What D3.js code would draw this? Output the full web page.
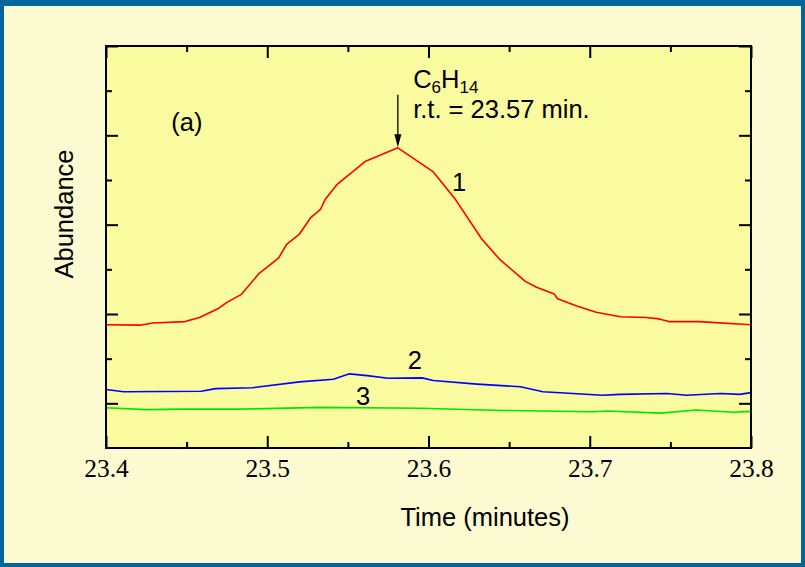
<!DOCTYPE html>
<html>
<head>
<meta charset="utf-8">
<script src="https://cdn.jsdelivr.net/npm/d3@7"></script>
<style>
  html, body { margin: 0; padding: 0; background: #00669a; }
  svg { display: block; }
</style>
</head>
<body>
<svg id="chart" width="805" height="567"></svg>
<script>
// trace 1 (red)
var time1 = [23.400, 23.421, 23.429, 23.449, 23.458, 23.470, 23.475, 23.484, 23.495, 23.507,
             23.512, 23.520, 23.527, 23.533, 23.536, 23.543, 23.561, 23.581, 23.603, 23.617,
             23.633, 23.644, 23.660, 23.667, 23.678, 23.680, 23.692, 23.704, 23.719, 23.735,
             23.743, 23.749, 23.768, 23.800];
var abund1 = [2.76, 2.75, 2.80, 2.83, 2.92, 3.13, 3.26, 3.44, 3.91, 4.25,
              4.56, 4.79, 5.16, 5.34, 5.57, 5.89, 6.42, 6.72, 6.18, 5.55,
              4.68, 4.23, 3.73, 3.60, 3.45, 3.34, 3.18, 3.04, 2.94, 2.92,
              2.89, 2.83, 2.83, 2.76];
// trace 2 (blue)
var time2 = [23.400, 23.411, 23.459, 23.468, 23.491, 23.520, 23.541, 23.551, 23.562, 23.575,
             23.596, 23.603, 23.630, 23.657, 23.671, 23.708, 23.719, 23.748, 23.760, 23.781,
             23.793, 23.800];
var abund2 = [1.31, 1.26, 1.27, 1.33, 1.35, 1.48, 1.54, 1.66, 1.62, 1.56,
              1.57, 1.51, 1.43, 1.37, 1.26, 1.18, 1.20, 1.22, 1.18, 1.22,
              1.20, 1.24];
// trace 3 (green)
var time3 = [23.400, 23.425, 23.448, 23.483, 23.533, 23.595, 23.646, 23.702, 23.711, 23.744,
             23.766, 23.789, 23.800];
var abund3 = [0.90, 0.86, 0.87, 0.87, 0.91, 0.89, 0.84, 0.81, 0.83, 0.78,
              0.85, 0.80, 0.82];

var xMajor = [23.4, 23.5, 23.6, 23.7, 23.8];
var xMinor = [23.45, 23.55, 23.65, 23.75];
var yMajor = [1, 3, 5, 7, 9];
var yMinor = [2, 4, 6, 8];

var peakTime = 23.581, peakAbund = 6.72;

var sans = "'Liberation Sans', Arial, Helvetica, sans-serif";
var serif = "'Liberation Serif', 'Times New Roman', Times, serif";
var fs = 25.5;

var svg = d3.select("#chart");
var W = +svg.attr("width"), H = +svg.attr("height");

// blue frame + cream page
svg.append("rect").attr("width", W).attr("height", H).attr("fill", "#00669a");
svg.append("rect").attr("x", 4).attr("y", 6).attr("width", W - 8).attr("height", H - 10)
   .attr("fill", "#fcfad1");

var margin = {left: 106, top: 46, right: 805 - 751, bottom: 567 - 448},
    width = W - margin.left - margin.right,
    height = H - margin.top - margin.bottom;

var g = svg.append("g").attr("transform", "translate(" + margin.left + "," + margin.top + ")");

var x = d3.scaleLinear().domain([23.4, 23.8]).range([0, width]);
var y = d3.scaleLinear().domain([0, 9]).range([height, 0]);

g.append("rect").attr("width", width).attr("height", height).attr("fill", "#fafa9f");

// inward ticks on all four sides
function tickAxis(axis, vals, size, fmt){
  var a = axis.tickValues(vals).tickSize(-size).tickPadding(12);
  if (!fmt) a.tickFormat("");
  else a.tickFormat(d3.format(".1f"));
  return a;
}
var axes = [
  {ax: d3.axisBottom(x), vals: xMajor, size: 12, lab: true, tr: "translate(0," + height + ")"},
  {ax: d3.axisBottom(x), vals: xMinor, size: 6, tr: "translate(0," + height + ")"},
  {ax: d3.axisTop(x), vals: xMajor, size: 12, tr: null},
  {ax: d3.axisTop(x), vals: xMinor, size: 6, tr: null},
  {ax: d3.axisLeft(y), vals: yMajor, size: 12, tr: null},
  {ax: d3.axisLeft(y), vals: yMinor, size: 6, tr: null},
  {ax: d3.axisRight(y), vals: yMajor, size: 12, tr: "translate(" + width + ",0)"},
  {ax: d3.axisRight(y), vals: yMinor, size: 6, tr: "translate(" + width + ",0)"}
];
axes.forEach(function(d){
  var sel = g.append("g").attr("transform", d.tr);
  sel.call(tickAxis(d.ax, d.vals, d.size, d.lab));
  sel.select(".domain").remove();
  sel.selectAll(".tick line").attr("stroke", "#000").attr("stroke-width", 2);
  sel.selectAll(".tick text")
     .attr("font-family", serif).attr("font-size", 25.5).attr("fill", "#000")
     .attr("dy", null).attr("y", 29);
});

// traces
var line = d3.line().x(function(d){ return x(d[0]); }).y(function(d){ return y(d[1]); });
var traces = [
  {t: time1, v: abund1, c: "#ff0000"},
  {t: time2, v: abund2, c: "#0000ff"},
  {t: time3, v: abund3, c: "#00e600"}
];
g.selectAll(".trace").data(traces).enter().append("path")
  .attr("class", "trace")
  .attr("fill", "none")
  .attr("stroke", function(d){ return d.c; })
  .attr("stroke-width", 1.6)
  .attr("stroke-linejoin", "round")
  .attr("d", function(d){ return line(d3.zip(d.t, d.v)); });

// frame
g.append("rect").attr("width", width).attr("height", height)
  .attr("fill", "none").attr("stroke", "#000").attr("stroke-width", 2);

// annotations
function label(t, v, txt, anchor){
  return g.append("text").attr("x", x(t)).attr("y", y(v))
    .attr("font-family", sans).attr("font-size", fs).attr("fill", "#000")
    .attr("text-anchor", anchor || "middle").text(txt);
}
label(23.619, 5.75, "1");
label(23.5916, 1.77, "2");
label(23.5594, 0.97, "3");
label(23.4405, 7.09, "(a)", "start");

var chem = g.append("text").attr("x", x(23.5905)).attr("y", y(8.07))
  .attr("font-family", sans).attr("font-size", fs).attr("fill", "#000");
chem.append("tspan").text("C");
chem.append("tspan").attr("font-size", 17).attr("dy", 5).text("6");
chem.append("tspan").attr("dy", -5).text("H");
chem.append("tspan").attr("font-size", 17).attr("dy", 5).text("14");
label(23.5905, 7.38, "r.t. = 23.57 min.", "start");

// arrow to peak
var ax0 = x(peakTime), ayTop = y(7.91), ayTip = y(peakAbund) - 0.5;
g.append("line").attr("x1", ax0).attr("x2", ax0).attr("y1", ayTop).attr("y2", ayTip - 8)
  .attr("stroke", "#000").attr("stroke-width", 1.3);
g.append("path")
  .attr("d", "M" + (ax0 - 3.5) + "," + (ayTip - 13) + "L" + (ax0 + 3.5) + "," + (ayTip - 13) + "L" + ax0 + "," + ayTip + "Z")
  .attr("fill", "#000");

// axis titles
svg.append("text").attr("x", 485).attr("y", 526)
  .attr("text-anchor", "middle").attr("font-family", sans).attr("font-size", fs)
  .text("Time (minutes)");
svg.append("text")
  .attr("transform", "translate(72.5,214) rotate(-90)")
  .attr("text-anchor", "middle").attr("font-family", sans).attr("font-size", fs)
  .text("Abundance");
</script>
</body>
</html>
